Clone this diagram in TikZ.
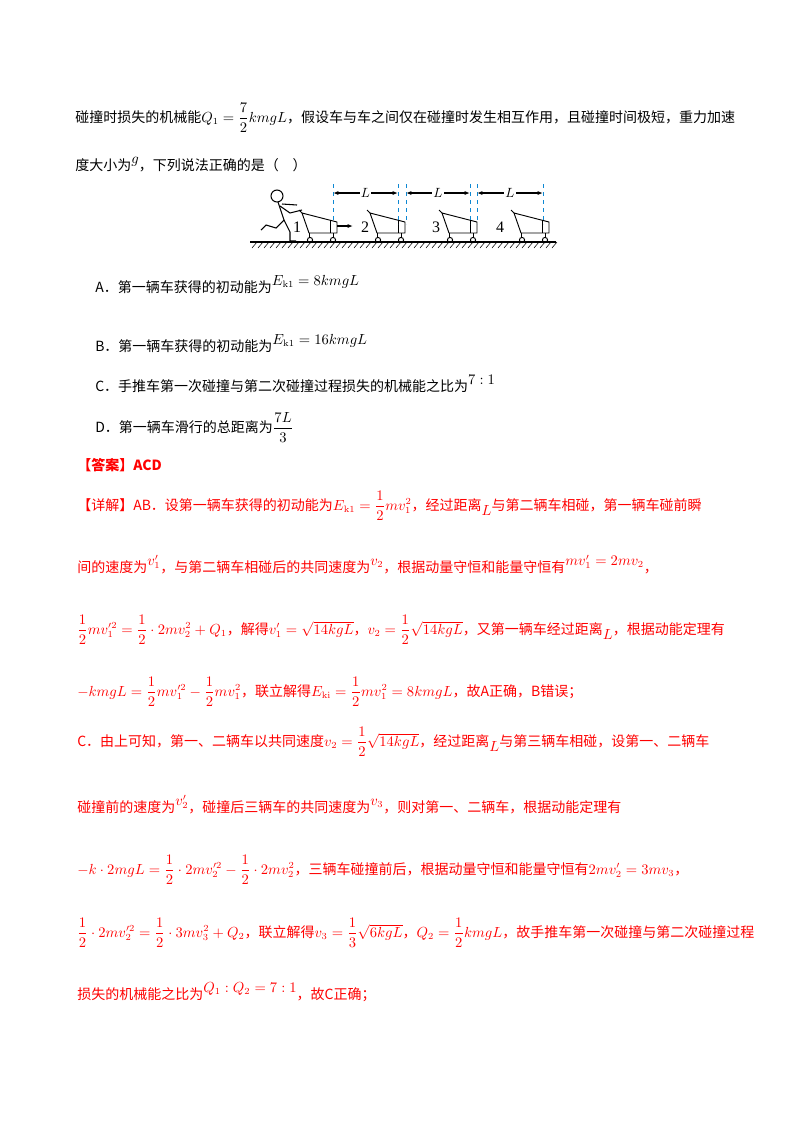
\documentclass[tikz,border=0pt]{standalone}
\usepackage[no-math]{fontspec}
\usepackage{amsmath}
\setmainfont{Noto Sans CJK SC}
\newfontfamily\serif{Liberation Serif}
\usetikzlibrary{arrows.meta,patterns}
\newcommand{\up}[1]{\raisebox{5pt}{$#1$}}
\newcommand{\dn}[1]{\raisebox{-4pt}{$#1$}}
\begin{document}
\begin{tikzpicture}[x=0.75pt,y=-0.75pt,
  txt/.style={anchor=base west,inner sep=0pt,font=\fontsize{10.5}{12}\selectfont},
  rtxt/.style={txt,text=red},
  dim/.style={{Latex[length=4pt]}-{Latex[length=4pt]},thick},
  guide/.style={cyan!70!blue,dashed,thin},
  cartline/.style={line width=0.7pt}]
\useasboundingbox (0,0) rectangle (800,1132);
\fill[white] (0,0) rectangle (800,1132);
\node[txt] (l1) at (75,122) {碰撞时损失的机械能$Q_1=\dfrac{7}{2}kmgL$，假设车与车之间仅在碰撞时发生相互作用，且碰撞时间极短，重力加速};
\node[txt] (l2) at (75,170) {度大小为\up{g}，下列说法正确的是（\quad）};
% figure
\coordinate (g0) at (250,242);
\coordinate (g1) at (556,242);
\draw[line width=0.8pt] (g0) -- (g1);
\foreach \x in {252,258,...,552} \draw[thin] (\x,248) -- (\x+5,242);
\foreach \f/\n/\lx in {337/1/297,405/2/365,477/3/436,549/4/500}{
  \begin{scope}[shift={(\f,233)}]
   \draw[cartline] (-35,-20) -- (0,-11) -- (0,0) -- (-28,0) -- cycle;
   \draw[cartline] (-7,-13) -- (-7,0);
   \draw[cartline] (-35,-20) -- (-38,-23);
   \draw[cartline] (-28,0) -- (-28,5) (-4,0)--(-4,5);
   \draw[cartline] (-27,7) circle (2.6) (-4,7) circle (2.6);
  \end{scope}
  \node[anchor=base,inner sep=0pt,font=\fontsize{12}{12}\selectfont\serif] (n\n) at (\lx,232) {\n};
}
\foreach \x in {333,398,406,470,477,543} \draw[guide] (\x,184) -- (\x,224);
\draw[dim] (333,193) -- node[fill=white,inner sep=1pt]{$L$} (398,193);
\draw[dim] (406,193) -- node[fill=white,inner sep=1pt]{$L$} (470,193);
\draw[dim] (477,193) -- node[fill=white,inner sep=1pt]{$L$} (543,193);
\draw[-{Latex[length=4pt]},thick] (337,226) -- (353,226);
% person
\draw[line width=0.8pt] (277,196) circle (6);
\draw[line width=0.8pt] (278,202) -- (284,220) -- (276,228) -- (266,225) -- (261,230);
\draw[line width=0.8pt] (284,220) -- (290,232) -- (290,241) -- (296,241);
\draw[line width=0.8pt] (280,206) -- (290,213) -- (302,210);
\draw[line width=0.8pt] (282,204) -- (297,205);
% options
\node[txt] (a) at (95,292) {A．第一辆车获得的初动能为\up{E_{\rm k1}=8kmgL}};
\node[txt] (b) at (95,351) {B．第一辆车获得的初动能为\up{E_{\rm k1}=16kmgL}};
\node[txt] (c) at (95,391) {C．手推车第一次碰撞与第二次碰撞过程损失的机械能之比为\up{7:1}};
\node[txt] (d) at (95,432) {D．第一辆车滑行的总距离为$\dfrac{7L}{3}$};
\node[rtxt,font=\bfseries\fontsize{10.5}{12}\selectfont] (ans) at (77,470) {【答案】ACD};
\node[rtxt] (r1) at (77,510) {【详解】AB．设第一辆车获得的初动能为$E_{\rm k1}=\dfrac12 mv_1^2$，经过距离\dn{L}与第二辆车相碰，第一辆车碰前瞬};
\node[rtxt] (r2) at (77,572) {间的速度为\up{v_1'}，与第二辆车相碰后的共同速度为\up{v_2}，根据动量守恒和能量守恒有\up{mv_1'=2mv_2}，};
\node[rtxt] (r3) at (77,634) {$\dfrac12 mv_1'^2=\dfrac12\cdot 2mv_2^2+Q_1$，解得$v_1'=\sqrt{14kgL}$，$v_2=\dfrac12\sqrt{14kgL}$，又第一辆车经过距离\dn{L}，根据动能定理有};
\node[rtxt] (r4) at (77,696) {$-kmgL=\dfrac12 mv_1'^2-\dfrac12 mv_1^2$，联立解得$E_{\rm ki}=\dfrac12 mv_1^2=8kmgL$，故A正确，B错误；};
\node[rtxt] (r5) at (77,746) {C．由上可知，第一、二辆车以共同速度$v_2=\dfrac12\sqrt{14kgL}$，经过距离\dn{L}与第三辆车相碰，设第一、二辆车};
\node[rtxt] (r6) at (77,812) {碰撞前的速度为\up{v_2'}，碰撞后三辆车的共同速度为\up{v_3}，则对第一、二辆车，根据动能定理有};
\node[rtxt] (r7) at (77,874) {$-k\cdot 2mgL=\dfrac12\cdot 2mv_2'^2-\dfrac12\cdot 2mv_2^2$，三辆车碰撞前后，根据动量守恒和能量守恒有$2mv_2'=3mv_3$，};
\node[rtxt] (r8) at (77,937) {$\dfrac12\cdot 2mv_2'^2=\dfrac12\cdot 3mv_3^2+Q_2$，联立解得$v_3=\dfrac13\sqrt{6kgL}$，$Q_2=\dfrac12 kmgL$，故手推车第一次碰撞与第二次碰撞过程};
\node[rtxt] (r9) at (77,999) {损失的机械能之比为\up{Q_1:Q_2=7:1}，故C正确；};
\end{tikzpicture}
\end{document}
